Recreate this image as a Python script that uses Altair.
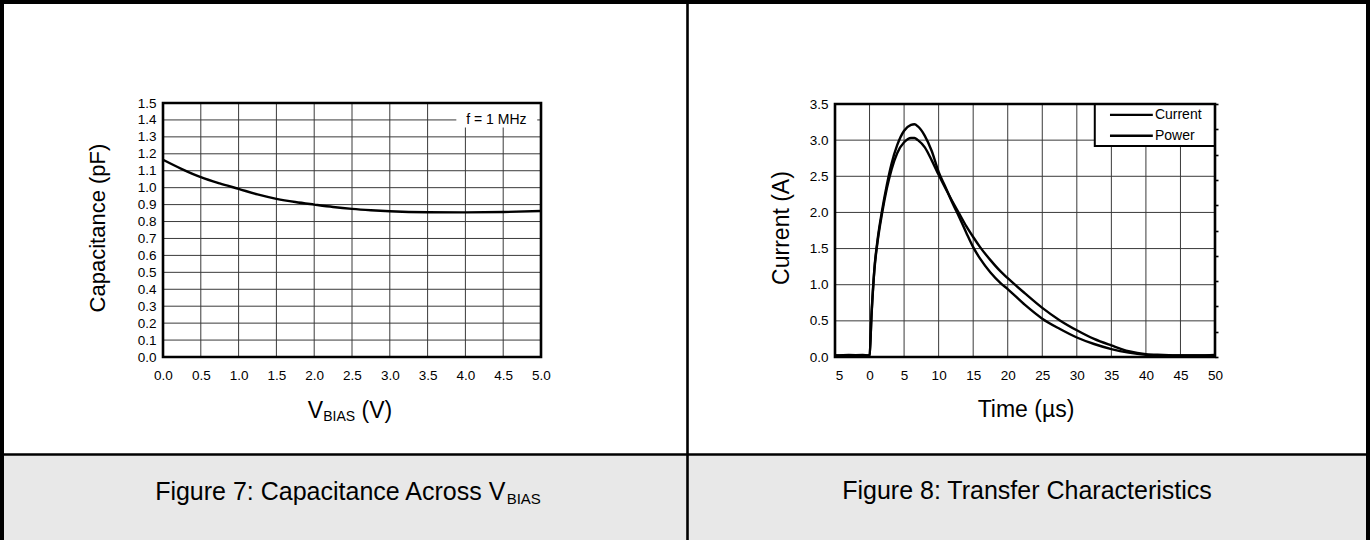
import altair as alt
import pandas as pd

W, H = 1370, 540
FONT = "Liberation Sans"

# ---------------- data ----------------
# Figure 7: capacitance across V_BIAS
vbias_v = [0.0, 0.25, 0.5, 0.75, 1.0, 1.25, 1.5, 1.75, 2.0, 2.25, 2.5, 2.75, 3.0, 3.5, 4.0, 4.5, 5.0]
capacitance_pf = [1.165, 1.11, 1.062, 1.025, 0.993, 0.96, 0.934, 0.915, 0.900, 0.886, 0.875, 0.867,
                  0.861, 0.855, 0.854, 0.856, 0.862]
cap_x_ticks = [0.0, 0.5, 1.0, 1.5, 2.0, 2.5, 3.0, 3.5, 4.0, 4.5, 5.0]
cap_y_ticks = [0.0, 0.1, 0.2, 0.3, 0.4, 0.5, 0.6, 0.7, 0.8, 0.9, 1.0, 1.1, 1.2, 1.3, 1.4, 1.5]

# Figure 8: transfer characteristics
time_us = [-5, -3, -1, -0.2, 0, 0.3, 0.7, 1.2, 1.8, 2.5, 3.2, 4, 5, 6, 6.5, 7, 8, 9, 10, 11, 12, 13,
           14, 15, 16, 17.5, 19, 20, 22.5, 25, 27.5, 30, 32.5, 35, 37.5, 40, 42.5, 45, 47.5, 50]
current_a = [0.02, 0.03, 0.02, 0.02, 0.03, 0.62, 1.22, 1.65, 2.02, 2.38, 2.68, 2.93, 3.13, 3.21, 3.22,
             3.19, 3.06, 2.85, 2.56, 2.35, 2.13, 1.93, 1.72, 1.52, 1.36, 1.17, 1.02, 0.94, 0.72, 0.53,
             0.39, 0.27, 0.18, 0.11, 0.06, 0.03, 0.02, 0.02, 0.02, 0.02]
power_a = [0.02, 0.02, 0.03, 0.02, 0.03, 0.6, 1.2, 1.62, 1.98, 2.33, 2.6, 2.82, 2.97, 3.03, 3.03,
           3.0, 2.9, 2.72, 2.52, 2.33, 2.15, 1.98, 1.81, 1.66, 1.52, 1.34, 1.18, 1.09, 0.88, 0.68,
           0.51, 0.37, 0.25, 0.16, 0.08, 0.04, 0.03, 0.02, 0.02, 0.03]
tr_x_ticks = [-5, 0, 5, 10, 15, 20, 25, 30, 35, 40, 45, 50]
tr_x_labels = ["5", "0", "5", "10", "15", "20", "25", "30", "35", "40", "45", "50"]
tr_y_ticks = [0.0, 0.5, 1.0, 1.5, 2.0, 2.5, 3.0, 3.5]
tr_right_ticks = [0.0, 0.35, 0.7, 1.05, 1.4, 1.75, 2.1, 2.45, 2.8, 3.15, 3.5]
legend_labels = ["Current", "Power"]

# ---------------- geometry ----------------
L_X0, L_X1, L_Y0, L_Y1 = 163, 541, 357, 103
R_X0, R_X1, R_Y0, R_Y1 = 835, 1215, 357, 104
GRID = "#3a3a3a"
TICK_FS = 13.5
ONE = pd.DataFrame({"k": [0]})


def sc(domain, rng):
    return alt.Scale(domain=domain, range=rng, nice=False, zero=False)


AW = {' ': 278, '(': 333, ')': 333, ':': 278, '7': 556, '8': 556, 'A': 667, 'B': 667, 'C': 722,
      'F': 611, 'I': 278, 'S': 667, 'T': 611, 'V': 667, 'a': 556, 'c': 500, 'e': 556, 'f': 278,
      'g': 556, 'h': 556, 'i': 222, 'm': 833, 'n': 556, 'o': 556, 'p': 556, 'r': 333, 's': 500,
      't': 278, 'u': 556, 'µ': 576}


def tw(s, size):
    return sum(AW.get(ch, 556) for ch in s) * size / 1000.0


def rich_text(parts, x_center, baseline_y):
    total = sum(tw(t, s) for t, s, dy in parts)
    x = x_center - total / 2.0
    out = []
    for t, s, dy in parts:
        lead = len(t) - len(t.lstrip(" "))
        out.append(
            alt.Chart(ONE).mark_text(text=t.strip(), fontSize=s, align="left", baseline="alphabetic",
                                     color="black", font=FONT)
            .encode(x=alt.value(x + tw(" " * lead, s)), y=alt.value(baseline_y + dy))
        )
        x += tw(t, s)
    return out


def plain_text(t, size, x, y, angle=0):
    return alt.Chart(ONE).mark_text(text=t, fontSize=size, align="center", baseline="middle",
                                    color="black", font=FONT, angle=angle).encode(
        x=alt.value(x), y=alt.value(y))


def lx():
    return sc([0, 5], [L_X0, L_X1])


def ly():
    return sc([0, 1.5], [L_Y0, L_Y1])


def rx():
    return sc([-5, 50], [R_X0, R_X1])


def ry():
    return sc([0, 3.5], [R_Y0, R_Y1])


def rect_layer(a, b, c, d, xs, ys, **mark):
    return alt.Chart(pd.DataFrame({"a": [a], "b": [b], "c": [c], "d": [d]})).mark_rect(**mark).encode(
        x=alt.X("a:Q", scale=xs, axis=None), x2="b:Q", y=alt.Y("c:Q", scale=ys, axis=None), y2="d:Q")


def vgrid(vals, lo, hi, xs, ys):
    return alt.Chart(pd.DataFrame({"g": vals, "lo": lo, "hi": hi})).mark_rule(
        color=GRID, strokeWidth=1).encode(
        x=alt.X("g:Q", scale=xs, axis=None), y=alt.Y("lo:Q", scale=ys, axis=None), y2="hi:Q")


def hgrid(vals, lo, hi, xs, ys):
    return alt.Chart(pd.DataFrame({"g": vals, "lo": lo, "hi": hi})).mark_rule(
        color=GRID, strokeWidth=1).encode(
        y=alt.Y("g:Q", scale=ys, axis=None), x=alt.X("lo:Q", scale=xs, axis=None), x2="hi:Q")


def axis(orient, offset, values, pad, **kw):
    return alt.Axis(orient=orient, offset=offset, values=values, ticks=False, domain=False,
                    grid=False, labelPadding=pad, labelFlush=False, labelOverlap=False,
                    labelFontSize=TICK_FS, labelFont=FONT, labelColor="black", title=None, **kw)


# ---------------- left panel ----------------
l_vgrid = vgrid(cap_x_ticks[1:-1], 0.0, 1.5, lx(), ly())
l_hgrid = hgrid(cap_y_ticks[1:-1], 0.0, 5.0, lx(), ly())
l_note_bg = rect_layer(3.88, 4.95, 1.355, 1.5, lx(), ly(), color="white")
l_note = alt.Chart(pd.DataFrame({"a": [4.41], "c": [1.4], "t": ["f = 1 MHz"]})).mark_text(
    fontSize=14, font=FONT, color="black", align="center", baseline="middle").encode(
    x=alt.X("a:Q", scale=lx(), axis=None), y=alt.Y("c:Q", scale=ly(), axis=None), text="t:N")
l_line = alt.Chart(pd.DataFrame({"v": vbias_v, "c": capacitance_pf})).mark_line(
    color="black", strokeWidth=2.4, interpolate="monotone").encode(
    x=alt.X("v:Q", scale=lx(), axis=axis("bottom", L_Y0 - H, cap_x_ticks, 11, format=".1f")),
    y=alt.Y("c:Q", scale=ly(), axis=axis("left", -L_X0, cap_y_ticks, 7, format=".1f")))
l_box = rect_layer(0.0, 5.0, 0.0, 1.5, lx(), ly(), fillOpacity=0, stroke="black", strokeWidth=2.6)

# ---------------- right panel ----------------
r_vgrid = vgrid(tr_x_ticks[1:-1], 0.0, 3.5, rx(), ry())
r_hgrid = hgrid(tr_y_ticks[1:-1], -5.0, 50.0, rx(), ry())

tr_long = pd.DataFrame({
    "t": time_us + time_us,
    "a": current_a + power_a,
    "s": [legend_labels[0]] * len(time_us) + [legend_labels[1]] * len(time_us),
})
label_map = "{" + ", ".join(f"'{v}': '{l}'" for v, l in zip(tr_x_ticks, tr_x_labels)) + "}"
r_lines = alt.Chart(tr_long).mark_line(color="black", strokeWidth=2.4, interpolate="monotone").encode(
    x=alt.X("t:Q", scale=rx(), axis=axis("bottom", R_Y0 - H, tr_x_ticks, 11,
                                         labelExpr=f"{label_map}[datum.value + '']",
                                         labelOffset=alt.ExprRef(expr="datum.value < 0 ? 4 : 0"))),
    y=alt.Y("a:Q", scale=ry(), axis=axis("left", -R_X0, tr_y_ticks, 7, format=".1f")),
    detail="s:N")

# legend box (drawn in the panel's data space)
LEG_X0, LEG_X1, LEG_Y0, LEG_Y1 = 32.6, 50.0, 2.92, 3.5
LEG_LINE_X0, LEG_LINE_X1, LEG_TEXT_X = 34.8, 41.0, 41.3
LEG_ROWS = [3.35, 3.06]
r_leg_box = rect_layer(LEG_X0, LEG_X1, LEG_Y0, LEG_Y1, rx(), ry(), fill="white", stroke="black",
                       strokeWidth=2)
leg_df = pd.DataFrame({"s": legend_labels, "y": LEG_ROWS, "a": LEG_LINE_X0, "b": LEG_LINE_X1,
                       "tx": LEG_TEXT_X})
r_leg_lines = alt.Chart(leg_df).mark_rule(color="black", strokeWidth=2.4).encode(
    x=alt.X("a:Q", scale=rx(), axis=None), x2="b:Q", y=alt.Y("y:Q", scale=ry(), axis=None))
r_leg_text = alt.Chart(leg_df).mark_text(fontSize=14, font=FONT, color="black", align="left",
                                         baseline="middle").encode(
    x=alt.X("tx:Q", scale=rx(), axis=None), y=alt.Y("y:Q", scale=ry(), axis=None), text="s:N")
r_box = rect_layer(-5.0, 50.0, 0.0, 3.5, rx(), ry(), fillOpacity=0, stroke="black", strokeWidth=2.6)

# secondary (unlabelled) tick axis on the right edge of figure 8
r_ticks = alt.Chart(pd.DataFrame({"p": tr_right_ticks})).mark_point(opacity=0).encode(
    y=alt.Y("p:Q", scale=ry(),
            axis=alt.Axis(orient="right", offset=R_X1 - W, values=tr_right_ticks, labels=False,
                          ticks=True, tickSize=3, tickWidth=1.6, tickColor="black", domain=False,
                          grid=False, title=None)),
    x=alt.value(R_X1))


# ---------------- frame ----------------
def hrule(y, x0, x1, w):
    return alt.Chart(ONE).mark_rule(color="black", strokeWidth=w).encode(
        x=alt.value(x0), x2=alt.value(x1), y=alt.value(y))


def vrule(x, y0, y1, w):
    return alt.Chart(ONE).mark_rule(color="black", strokeWidth=w).encode(
        y=alt.value(y0), y2=alt.value(y1), x=alt.value(x))


band = alt.Chart(ONE).mark_rect(color="#e8e8e8").encode(
    x=alt.value(0), x2=alt.value(W), y=alt.value(455), y2=alt.value(H))
frame = [band, hrule(454.5, 0, W, 2.6), vrule(687.5, 0, H, 2.6),
         hrule(2, 0, W, 4), vrule(2, 0, H, 4), vrule(W - 2, 0, H, 4)]

# ---------------- titles / captions ----------------
texts = [
    plain_text("Capacitance (pF)", 22, 98, 228, angle=270),
    plain_text("Current (A)", 23, 782, 228, angle=270),
    plain_text("Time (µs)", 23, 1026, 410),
    plain_text("Figure 8: Transfer Characteristics", 25, 1027, 491),
]
texts += rich_text([("V", 23, 0), ("BIAS", 14, 3), (" (V)", 23, 0)], 350, 418)
texts += rich_text([("Figure 7: Capacitance Across V", 25, 0), ("BIAS", 15, 4)], 348, 500)

chart = alt.layer(
    *frame,
    l_vgrid, l_hgrid, l_note_bg, l_note, l_line, l_box,
    r_vgrid, r_hgrid, r_leg_box, r_leg_lines, r_leg_text, r_lines, r_box, r_ticks,
    *texts,
).resolve_scale(x="independent", y="independent").properties(
    width=W, height=H, autosize=alt.AutoSizeParams(type="none"), padding=0,
    background="white").configure_view(stroke=None)

chart.save("out.html", embed_options={"renderer": "svg", "actions": False})
